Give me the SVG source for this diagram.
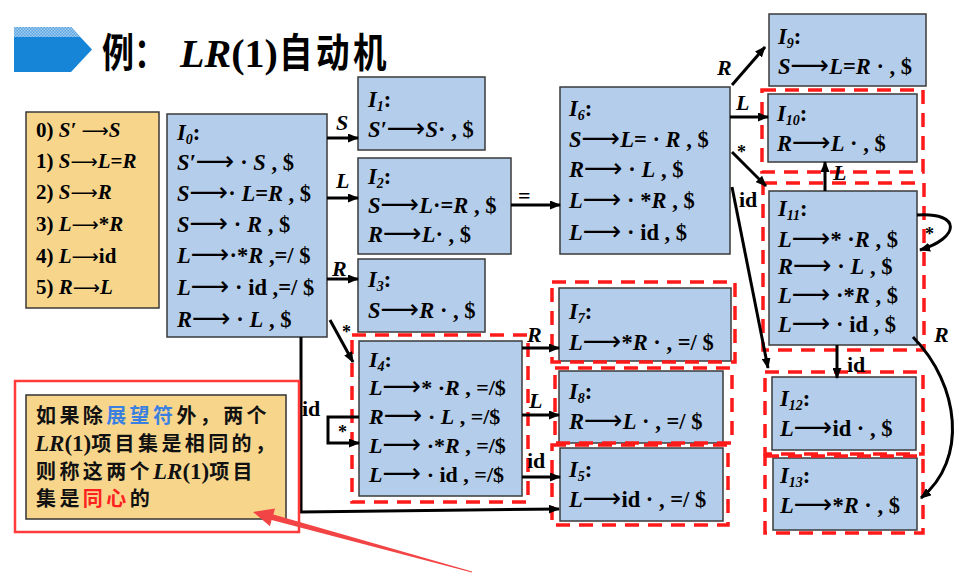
<svg xmlns="http://www.w3.org/2000/svg" width="959" height="585" viewBox="0 0 959 585">
<style>
.bx{fill:#B4CDEA;stroke:#3a3a3a;stroke-width:1.5}
.gb{fill:#F7D68C;stroke:#3a3a3a;stroke-width:1.5}
.t{font-family:"Liberation Serif",serif;font-weight:bold;font-size:22.5px;fill:#000}
.t2{font-family:"Liberation Serif",serif;font-weight:bold;font-size:22px;fill:#000}
.g{font-family:"Liberation Serif",serif;font-weight:bold;font-size:21px;fill:#000}
.v{font-style:italic}
.s{font-size:14px;font-style:italic}
.a{font-family:"DejaVu Sans",sans-serif;font-weight:normal;font-size:27px}
.ga{font-family:"DejaVu Sans",sans-serif;font-weight:normal;font-size:19px}
.rd{fill:none;stroke:#FF1A1A;stroke-width:3.5;stroke-dasharray:14 9}
.c{fill:none;stroke:#000;stroke-width:3}
.lb{font-family:"Liberation Serif",serif;font-weight:bold;font-size:22px;fill:#000}
.st{font-family:"Liberation Serif",serif;font-weight:bold;font-size:18px;fill:#000}
.cj{font-family:"Noto Sans CJK SC",sans-serif;font-weight:bold;font-size:20px;letter-spacing:3.4px;fill:#111}
.cl{font-family:"Liberation Serif",serif;font-weight:bold;font-size:23px;letter-spacing:0}
.tt{font-family:"Noto Sans CJK SC",sans-serif;font-weight:bold;font-size:40px;fill:#000}
</style>
<defs>
<marker id="ah" markerWidth="11" markerHeight="9" refX="10" refY="4.5" orient="auto" markerUnits="userSpaceOnUse"><path d="M0,0 L11,4.5 L0,9 z" fill="#000"/></marker>
<pattern id="chk" width="3" height="3" patternUnits="userSpaceOnUse"><rect width="3" height="3" fill="#5AA5E4"/><rect width="1.5" height="1.5" fill="#A5CEEF"/><rect x="1.5" y="1.5" width="1.5" height="1.5" fill="#A5CEEF"/></pattern>
</defs>
<rect width="959" height="585" fill="#fff"/>

<g id="title">
<path d="M14,27 H71 L92,49.5 L71,72 H14 Z" fill="#1685D8"/>
<path d="M14,27 H71 L80,37 H14 Z" fill="url(#chk)"/>
<text class="tt" transform="translate(102,67) scale(0.8,1)">例</text>
<text class="tt" transform="translate(134,67) scale(0.8,1)">：</text>
<text x="180" y="67" font-family="Liberation Serif,serif" font-weight="bold" font-size="40"><tspan font-style="italic">LR</tspan>(1)</text>
<text class="tt" transform="translate(279,67) scale(0.84,1)" letter-spacing="4">自动机</text>
</g>

<g id="grammar">
<rect class="gb" x="26" y="112" width="133" height="196"/>
<text class="g" x="36" y="137">0) <tspan class="v">S′</tspan> <tspan class="ga">⟶</tspan><tspan class="v">S</tspan></text>
<text class="g" x="36" y="168">1) <tspan class="v">S</tspan><tspan class="ga">⟶</tspan><tspan class="v">L</tspan>=<tspan class="v">R</tspan></text>
<text class="g" x="36" y="199">2) <tspan class="v">S</tspan><tspan class="ga">⟶</tspan><tspan class="v">R</tspan></text>
<text class="g" x="36" y="231">3) <tspan class="v">L</tspan><tspan class="ga">⟶</tspan>*<tspan class="v">R</tspan></text>
<text class="g" x="36" y="263">4) <tspan class="v">L</tspan><tspan class="ga">⟶</tspan>id</text>
<text class="g" x="36" y="294">5) <tspan class="v">R</tspan><tspan class="ga">⟶</tspan><tspan class="v">L</tspan></text>
</g>

<g id="I0">
<rect class="bx" x="167" y="114" width="160" height="223"/>
<text class="t" x="177" y="140"><tspan class="v">I</tspan><tspan class="s" dy="4">0</tspan><tspan dy="-4">:</tspan></text>
<text class="t" x="177" y="170"><tspan class="v">S′</tspan><tspan class="a">⟶</tspan> · <tspan class="v">S</tspan> , $</text>
<text class="t" x="177" y="201"><tspan class="v">S</tspan><tspan class="a">⟶</tspan>· <tspan class="v">L</tspan>=<tspan class="v">R</tspan> , $</text>
<text class="t" x="177" y="232"><tspan class="v">S</tspan><tspan class="a">⟶</tspan> · <tspan class="v">R</tspan> , $</text>
<text class="t" x="177" y="263"><tspan class="v">L</tspan><tspan class="a">⟶</tspan>·*<tspan class="v">R</tspan> ,=/ $</text>
<text class="t" x="177" y="295"><tspan class="v">L</tspan><tspan class="a">⟶</tspan> · id ,=/ $</text>
<text class="t" x="177" y="327"><tspan class="v">R</tspan><tspan class="a">⟶</tspan> · <tspan class="v">L</tspan> , $</text>
</g>

<g id="I1">
<rect class="bx" x="358" y="77" width="127" height="73"/>
<text class="t" x="368" y="107"><tspan class="v">I</tspan><tspan class="s" dy="4">1</tspan><tspan dy="-4">:</tspan></text>
<text class="t" x="368" y="137"><tspan class="v">S′</tspan><tspan class="a">⟶</tspan><tspan class="v">S</tspan>· , $</text>
</g>

<g id="I2">
<rect class="bx" x="358" y="158" width="153" height="96"/>
<text class="t" x="368" y="184"><tspan class="v">I</tspan><tspan class="s" dy="4">2</tspan><tspan dy="-4">:</tspan></text>
<text class="t" x="368" y="213"><tspan class="v">S</tspan><tspan class="a">⟶</tspan><tspan class="v">L</tspan>·=<tspan class="v">R</tspan> , $</text>
<text class="t" x="368" y="242"><tspan class="v">R</tspan><tspan class="a">⟶</tspan><tspan class="v">L</tspan>· , $</text>
</g>

<g id="I3">
<rect class="bx" x="358" y="259" width="127" height="73"/>
<text class="t" x="368" y="287"><tspan class="v">I</tspan><tspan class="s" dy="4">3</tspan><tspan dy="-4">:</tspan></text>
<text class="t" x="368" y="318"><tspan class="v">S</tspan><tspan class="a">⟶</tspan><tspan class="v">R</tspan> · , $</text>
</g>

<g id="I4">
<rect class="bx" x="359" y="341" width="163" height="155"/>
<text class="t2" x="369" y="367"><tspan class="v">I</tspan><tspan class="s" dy="4">4</tspan><tspan dy="-4">:</tspan></text>
<text class="t2" x="369" y="395"><tspan class="v">L</tspan><tspan class="a">⟶</tspan>* ·<tspan class="v">R</tspan> , =/$</text>
<text class="t2" x="369" y="424"><tspan class="v">R</tspan><tspan class="a">⟶</tspan> · <tspan class="v">L</tspan> , =/$</text>
<text class="t2" x="369" y="453"><tspan class="v">L</tspan><tspan class="a">⟶</tspan> ·*<tspan class="v">R</tspan> , =/$</text>
<text class="t2" x="369" y="482"><tspan class="v">L</tspan><tspan class="a">⟶</tspan> · id , =/$</text>
</g>

<g id="I6">
<rect class="bx" x="560" y="87" width="170" height="167"/>
<text class="t" x="569" y="116"><tspan class="v">I</tspan><tspan class="s" dy="4">6</tspan><tspan dy="-4">:</tspan></text>
<text class="t" x="569" y="147"><tspan class="v">S</tspan><tspan class="a">⟶</tspan><tspan class="v">L</tspan>= · <tspan class="v">R</tspan> , $</text>
<text class="t" x="569" y="177"><tspan class="v">R</tspan><tspan class="a">⟶</tspan> · <tspan class="v">L</tspan> , $</text>
<text class="t" x="569" y="208"><tspan class="v">L</tspan><tspan class="a">⟶</tspan> · *<tspan class="v">R</tspan> , $</text>
<text class="t" x="569" y="240"><tspan class="v">L</tspan><tspan class="a">⟶</tspan> · id , $</text>
</g>

<g id="I7">
<rect class="bx" x="559" y="288" width="172" height="73"/>
<text class="t" x="569" y="319"><tspan class="v">I</tspan><tspan class="s" dy="4">7</tspan><tspan dy="-4">:</tspan></text>
<text class="t" x="569" y="350"><tspan class="v">L</tspan><tspan class="a">⟶</tspan>*<tspan class="v">R</tspan> · , =/ $</text>
</g>

<g id="I8">
<rect class="bx" x="559" y="371" width="164" height="72"/>
<text class="t" x="569" y="399"><tspan class="v">I</tspan><tspan class="s" dy="4">8</tspan><tspan dy="-4">:</tspan></text>
<text class="t" x="569" y="429"><tspan class="v">R</tspan><tspan class="a">⟶</tspan><tspan class="v">L</tspan> · , =/ $</text>
</g>

<g id="I5">
<rect class="bx" x="560" y="448" width="163" height="73"/>
<text class="t" x="569" y="477"><tspan class="v">I</tspan><tspan class="s" dy="4">5</tspan><tspan dy="-4">:</tspan></text>
<text class="t" x="569" y="507"><tspan class="v">L</tspan><tspan class="a">⟶</tspan>id · , =/ $</text>
</g>

<g id="I9">
<rect class="bx" x="769" y="14" width="157" height="72"/>
<text class="t" x="778" y="44"><tspan class="v">I</tspan><tspan class="s" dy="4">9</tspan><tspan dy="-4">:</tspan></text>
<text class="t" x="778" y="74"><tspan class="v">S</tspan><tspan class="a">⟶</tspan><tspan class="v">L</tspan>=<tspan class="v">R</tspan> · , $</text>
</g>

<g id="I10">
<rect class="bx" x="768" y="94" width="149" height="68"/>
<text class="t" x="777" y="121"><tspan class="v">I</tspan><tspan class="s" dy="4">10</tspan><tspan dy="-4">:</tspan></text>
<text class="t" x="777" y="151"><tspan class="v">R</tspan><tspan class="a">⟶</tspan><tspan class="v">L</tspan> · , $</text>
</g>

<g id="I11">
<rect class="bx" x="769" y="191" width="148" height="154"/>
<text class="t" x="778" y="216"><tspan class="v">I</tspan><tspan class="s" dy="4">11</tspan><tspan dy="-4">:</tspan></text>
<text class="t" x="778" y="247"><tspan class="v">L</tspan><tspan class="a">⟶</tspan>* ·<tspan class="v">R</tspan> , $</text>
<text class="t" x="778" y="274"><tspan class="v">R</tspan><tspan class="a">⟶</tspan> · <tspan class="v">L</tspan> , $</text>
<text class="t" x="778" y="303"><tspan class="v">L</tspan><tspan class="a">⟶</tspan> ·*<tspan class="v">R</tspan> , $</text>
<text class="t" x="778" y="332"><tspan class="v">L</tspan><tspan class="a">⟶</tspan> · id , $</text>
</g>

<g id="I12">
<rect class="bx" x="772" y="377" width="144" height="73"/>
<text class="t" x="780" y="406"><tspan class="v">I</tspan><tspan class="s" dy="4">12</tspan><tspan dy="-4">:</tspan></text>
<text class="t" x="780" y="436"><tspan class="v">L</tspan><tspan class="a">⟶</tspan>id · , $</text>
</g>

<g id="I13">
<rect class="bx" x="773" y="458" width="144" height="72"/>
<text class="t" x="780" y="483"><tspan class="v">I</tspan><tspan class="s" dy="4">13</tspan><tspan dy="-4">:</tspan></text>
<text class="t" x="780" y="513"><tspan class="v">L</tspan><tspan class="a">⟶</tspan>*<tspan class="v">R</tspan> · , $</text>
</g>

<g id="cores">
<rect class="rd" x="352" y="335" width="176" height="167"/>
<rect class="rd" x="552" y="282" width="183" height="80"/>
<rect class="rd" x="555" y="368" width="177" height="75"/>
<rect class="rd" x="552" y="445" width="176" height="80"/>
<rect class="rd" x="762" y="90" width="161" height="82"/>
<rect class="rd" x="763" y="183" width="161" height="167"/>
<rect class="rd" x="765" y="372" width="158" height="82"/>
<rect class="rd" x="765" y="456" width="158" height="77"/>
</g>

<g id="connectors">
<line class="c" x1="327" y1="138" x2="358" y2="138" marker-end="url(#ah)"/>
<line class="c" x1="327" y1="198" x2="358" y2="198" marker-end="url(#ah)"/>
<line class="c" x1="327" y1="279" x2="358" y2="279" marker-end="url(#ah)"/>
<line class="c" x1="511" y1="205" x2="560" y2="205" marker-end="url(#ah)"/>
<line class="c" x1="330" y1="320" x2="353" y2="362" stroke-width="2.5" marker-end="url(#ah)"/>
<polyline class="c" points="301,337 301,512 559,509" stroke-width="2.5" marker-end="url(#ah)"/>
<polyline class="c" points="359,417 328,417 328,443 359,443" marker-end="url(#ah)"/>
<line class="c" x1="522" y1="348" x2="559" y2="348" marker-end="url(#ah)"/>
<line class="c" x1="522" y1="415" x2="559" y2="415" marker-end="url(#ah)"/>
<line class="c" x1="522" y1="477" x2="560" y2="477" marker-end="url(#ah)"/>
<line class="c" x1="732" y1="85" x2="765" y2="47" marker-end="url(#ah)"/>
<line class="c" x1="730" y1="117" x2="768" y2="117" marker-end="url(#ah)"/>
<line class="c" x1="732" y1="152" x2="766" y2="186" marker-end="url(#ah)"/>
<line class="c" x1="732" y1="187" x2="768" y2="368" stroke-width="2.5" marker-end="url(#ah)"/>
<line class="c" x1="825" y1="191" x2="825" y2="162" marker-end="url(#ah)"/>
<path class="c" d="M917,215 C962,212 960,238 920,250" marker-end="url(#ah)"/>
<line class="c" x1="837" y1="345" x2="837" y2="378" marker-end="url(#ah)"/>
<path class="c" d="M913,337 C960,385 968,460 921,498" stroke-width="2.5" marker-end="url(#ah)"/>
<text class="lb v" x="336" y="130">S</text>
<text class="lb v" x="336" y="188">L</text>
<text class="lb v" x="332" y="276">R</text>
<text class="lb" x="518" y="203" font-size="26">=</text>
<text class="st" x="342" y="338">*</text>
<text class="lb" x="302" y="416">id</text>
<text class="st" x="338" y="438">*</text>
<text class="lb v" x="527" y="342">R</text>
<text class="lb v" x="529" y="408">L</text>
<text class="lb" x="527" y="468">id</text>
<text class="lb v" x="717" y="75">R</text>
<text class="lb v" x="736" y="110">L</text>
<text class="st" x="737" y="158">*</text>
<text class="lb" x="739" y="207">id</text>
<text class="lb v" x="833" y="180">L</text>
<text class="st" x="925" y="240">*</text>
<text class="lb" x="847" y="372">id</text>
<text class="lb v" x="934" y="342">R</text>
</g>

<g id="note">
<rect x="15" y="381" width="284" height="151" fill="#fff" stroke="#FF3B3B" stroke-width="2.5"/>
<rect x="26" y="395" width="260" height="124" fill="#F7D68C" stroke="#333" stroke-width="1.5"/>
<text class="cj" x="36" y="423">如果除<tspan fill="#3A80E0">展望符</tspan>外，两个</text>
<text class="cj" x="35" y="451"><tspan class="cl"><tspan class="v">LR</tspan>(1)</tspan>项目集是相同的，</text>
<text class="cj" x="36" y="479">则称这两个<tspan class="cl"><tspan class="v">LR</tspan>(1)</tspan>项目</text>
<text class="cj" x="36" y="506">集是<tspan fill="#FF2020">同心</tspan>的</text>
<path d="M472.1,571.5 L273.4,514.6 L275,508.5 L253,512 L270,526.3 L271.6,519.9 L471.9,572.5 Z" fill="#F24444"/>
</g>
</svg>
